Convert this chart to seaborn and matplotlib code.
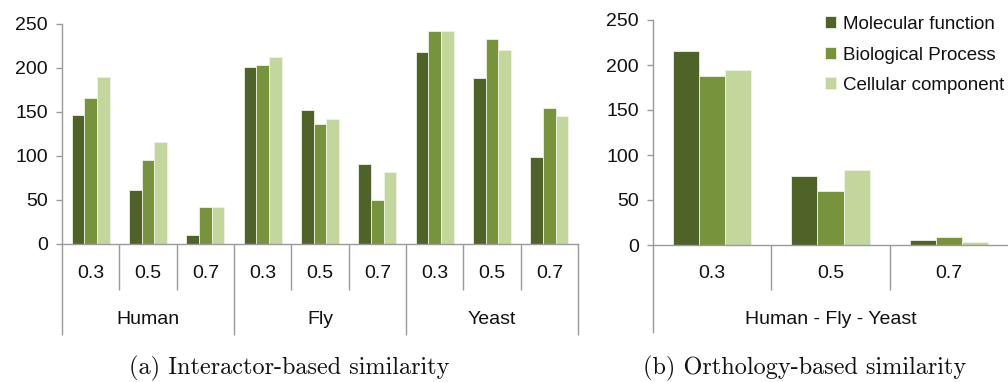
import matplotlib
matplotlib.use("Agg")
import matplotlib.pyplot as plt
import seaborn as sns
import pandas as pd

# GO term categories and their colours
terms = ["Molecular function", "Biological Process", "Cellular component"]
colors = ["#4f6228", "#77933c", "#c3d69b"]

# (a) interactor-based similarity: species x threshold
species = ["Human", "Fly", "Yeast"]
thresholds = ["0.3", "0.5", "0.7"]
mf_inter = [147, 61, 10, 201, 152, 91, 218, 189, 99]
bp_inter = [166, 96, 42, 203, 136, 50, 242, 233, 155]
cc_inter = [190, 116, 42, 212, 142, 82, 242, 221, 146]

# (b) orthology-based similarity across Human - Fly - Yeast
ortho_group = "Human - Fly - Yeast"
mf_ortho = [216, 77, 6]
bp_ortho = [188, 60, 9]
cc_ortho = [194, 83, 3]

sns.set_theme(style="white")
plt.rcParams["font.family"] = ["Liberation Sans", "DejaVu Sans"]

W, H = 1008, 382
fig = plt.figure(figsize=(W / 100, H / 100), dpi=100)


def px_axes(x0, x1, y_top, y_bot):
    return fig.add_axes([x0 / W, (H - y_bot) / H, (x1 - x0) / W, (y_bot - y_top) / H])


ax_a = px_axes(62, 578, 24, 244)
ax_b = px_axes(653, 1008, 20, 245)

# long-form tables
conds = [f"{s}|{t}" for s in species for t in thresholds]
df_a = pd.DataFrame({
    "cond": conds * 3,
    "term": sum([[tm] * len(conds) for tm in terms], []),
    "value": mf_inter + bp_inter + cc_inter,
})
df_b = pd.DataFrame({
    "cond": thresholds * 3,
    "term": sum([[tm] * len(thresholds) for tm in terms], []),
    "value": mf_ortho + bp_ortho + cc_ortho,
})

pal = dict(zip(terms, colors))
for ax, df, order in [(ax_a, df_a, conds), (ax_b, df_b, thresholds)]:
    sns.barplot(data=df, x="cond", y="value", hue="term", order=order,
                hue_order=terms, palette=pal, width=0.66, saturation=1,
                edgecolor="#eef2e4", linewidth=0.6, ax=ax, legend=(ax is ax_b))

axis_grey = "#9a9a9a"
label_size = 14
for ax in (ax_a, ax_b):
    ax.set_ylim(0, 250)
    ax.set_yticks(range(0, 251, 50))
    ax.set_xlabel("")
    ax.set_ylabel("")
    ax.set_xticks([])
    for side in ("top", "right"):
        ax.spines[side].set_visible(False)
    for side in ("left", "bottom"):
        ax.spines[side].set_color(axis_grey)
        ax.spines[side].set_linewidth(1.0)
    ax.tick_params(axis="y", left=True, length=4, width=1.0, color=axis_grey,
                   pad=6, labelsize=label_size, labelcolor="#111111")
    ax.set_facecolor("none")

ax_a.set_xlim(-0.5, 8.5)
ax_b.set_xlim(-0.5, 2.5)


def frac(ax, px):
    return px / (ax.get_position().height * H)


def draw_line(ax, x, depth_px):
    ax.plot([x, x], [0, -frac(ax, depth_px)], transform=ax.get_xaxis_transform(),
            color=axis_grey, lw=1.0, clip_on=False, solid_capstyle="butt")


# two-level category labels under panel (a)
for i, c in enumerate(conds):
    ax_a.text(i, -frac(ax_a, 29), c.split("|")[1], transform=ax_a.get_xaxis_transform(),
              ha="center", va="center", fontsize=label_size, color="#111111")
for g, s in enumerate(species):
    ax_a.text(g * 3 + 1, -frac(ax_a, 76), s, transform=ax_a.get_xaxis_transform(),
              ha="center", va="center", fontsize=label_size, color="#111111")
for k in range(10):
    draw_line(ax_a, k - 0.5, 91 if k % 3 == 0 else 46)

# labels under panel (b)
for i, t in enumerate(thresholds):
    ax_b.text(i, -frac(ax_b, 29), t, transform=ax_b.get_xaxis_transform(),
              ha="center", va="center", fontsize=label_size, color="#111111")
ax_b.text(1, -frac(ax_b, 75), ortho_group, transform=ax_b.get_xaxis_transform(),
          ha="center", va="center", fontsize=label_size, color="#111111")
draw_line(ax_b, -0.5, 88)
for k in (1, 2):
    draw_line(ax_b, k - 0.5, 45)

# legend in the top right corner
leg = ax_b.legend(frameon=False, loc="upper left", bbox_to_anchor=(825 / W, 1 - 16 / H),
                  bbox_transform=fig.transFigure, fontsize=13.5, handlelength=0.6,
                  handleheight=0.6, handletextpad=0.35, labelspacing=0.72,
                  borderaxespad=0, borderpad=0)
for txt in leg.get_texts():
    txt.set_color("#111111")

# sub-figure captions
cap = dict(ha="center", va="center", fontsize=17.5, color="#111111",
           family=["cmr10", "DejaVu Serif"])
fig.text(289 / W, 1 - 368 / H, "(a) Interactor-based similarity", **cap)
fig.text(805 / W, 1 - 368 / H, "(b) Orthology-based similarity", **cap)

fig.savefig("out.png", dpi=100)
